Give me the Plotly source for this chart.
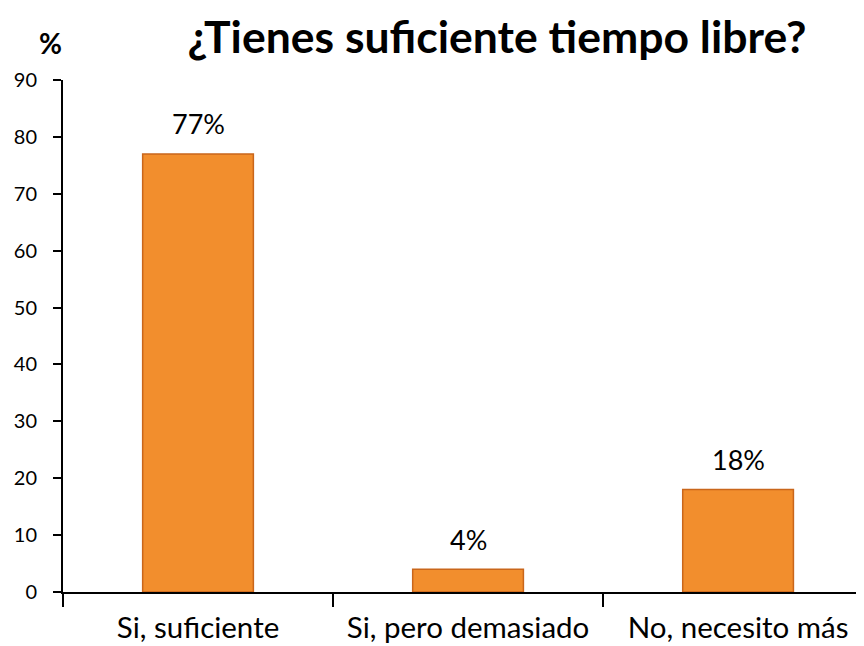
import plotly.graph_objects as go

categorias = ['Si, suficiente', 'Si, pero demasiado', 'No, necesito más']
valores = [77, 4, 18]
etiquetas = ['77%', '4%', '18%']
y_ticks = [0, 10, 20, 30, 40, 50, 60, 70, 80, 90]

fuente = 'Lato'

fig = go.Figure()
fig.add_trace(go.Bar(
    x=categorias,
    y=valores,
    width=0.41,
    marker=dict(color='#F28E2D', line=dict(color='#C9661B', width=1.5)),
))

# etiquetas de valor encima de cada barra
for cat, val, txt in zip(categorias, valores, etiquetas):
    fig.add_annotation(x=cat, y=val, text=txt, showarrow=False, yshift=30,
                       font=dict(family=fuente, size=27, color='black'))

fig.add_annotation(text='<b>%</b>', xref='paper', yref='paper', x=-0.015, y=1.072,
                   xanchor='center', yanchor='middle', showarrow=False,
                   font=dict(family=fuente, size=28, color='black'))

fig.update_layout(
    width=864,
    height=646,
    plot_bgcolor='white',
    paper_bgcolor='white',
    margin=dict(l=55, r=0, t=72, b=62, autoexpand=False),
    showlegend=False,
    font=dict(family=fuente, color='black'),
    title=dict(text='<b>¿Tienes suficiente tiempo libre?</b>',
               x=0.566, xanchor='center', y=0.954, yanchor='middle',
               font=dict(family=fuente, size=44.5, color='black')),
)

fig.update_xaxes(
    range=[-0.5, 2.496],
    automargin=False,
    showline=True, linecolor='black', linewidth=2,
    ticks='outside', tickson='boundaries', ticklen=13, tickwidth=2, tickcolor='black',
    tickfont=dict(family=fuente, size=29.5),
    ticklabelstandoff=9,
    showgrid=False,
)
fig.update_yaxes(
    range=[0, 90],
    automargin=False,
    tickvals=y_ticks,
    showline=True, linecolor='black', linewidth=2,
    ticks='outside', ticklen=8, tickwidth=2, tickcolor='black',
    tickfont=dict(family=fuente, size=20),
    ticklabelstandoff=12,
    showgrid=False, zeroline=False,
)

fig.write_html('out.html')
